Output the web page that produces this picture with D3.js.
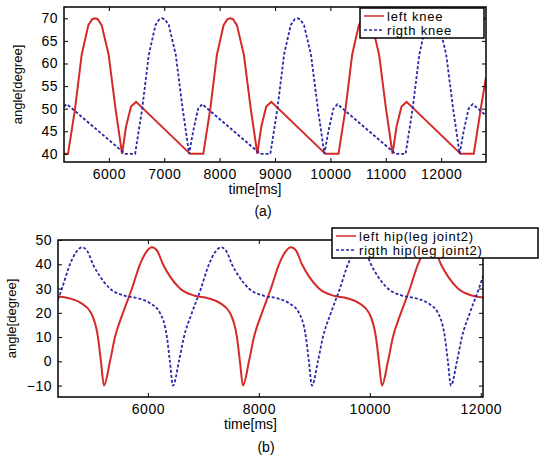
<!DOCTYPE html>
<html>
<head>
<meta charset="utf-8">
<script src="https://cdn.jsdelivr.net/npm/d3@7"></script>
<style>
  body { margin: 0; background: #fff; }
  text { font-family: "Liberation Sans", Arial, sans-serif; fill: #000; }
</style>
</head>
<body>
<svg id="chart" width="539" height="458"></svg>
<script>
// (a) knee angles [time ms, degree]
var leftKnee = [
  [5190, 40], [5263, 40], [5390, 50], [5510, 62], [5630, 68.5], [5700, 69.8], [5750, 70], [5800, 69.8], [5870, 68.5], [5995, 62], [6120, 50], [6239, 40],
  [6310, 46], [6400, 50.5], [6492, 51.5], [7468, 40], [7705, 40], [7832, 50], [7952, 62], [8072, 68.5], [8142, 69.8], [8192, 70], [8242, 69.8], [8312, 68.5],
  [8437, 62], [8562, 50], [8681, 40], [8752, 46], [8842, 50.5], [8934, 51.5], [9910, 40], [10147, 40], [10274, 50], [10394, 62],
  [10514, 68.5], [10584, 69.8], [10634, 70], [10684, 69.8], [10754, 68.5], [10879, 62], [11004, 50], [11123, 40], [11194, 46], [11284, 50.5], [11376, 51.5],
  [12352, 40], [12589, 40], [12716, 50], [12810, 57]
];
var rightKnee = [
  [5190, 50.5], [5243, 51], [6293, 40], [6474, 40], [6602, 50], [6722, 62], [6842, 68.5], [6912, 69.8], [6962, 70], [7012, 69.8], [7082, 68.5], [7207, 62],
  [7332, 50], [7450, 40], [7522, 45], [7612, 50], [7685, 51], [8735, 40], [8916, 40], [9044, 50], [9164, 62], [9284, 68.5],
  [9354, 69.8], [9404, 70], [9454, 69.8], [9524, 68.5], [9649, 62], [9774, 50], [9892, 40], [9964, 45], [10054, 50], [10127, 51], [11177, 40], [11358, 40],
  [11486, 50], [11606, 62], [11726, 68.5], [11796, 69.8], [11846, 70], [11896, 69.8], [11966, 68.5], [12091, 62], [12216, 50], [12334, 40], [12406, 45],
  [12496, 50], [12569, 51], [12810, 48.5]
];
// (b) hip angles [time ms, degree]
var leftHip = [
  [4380, 26.8], [4578, 26], [4794, 24], [4974, 20], [5100, 10], [5154, 0], [5209, -10], [5317, 0], [5407, 10], [5551, 20],
  [5713, 30], [5858, 40], [5969, 45], [6074, 47], [6169, 45.5], [6272, 40], [6398, 35], [6578, 30], [6849, 27], [7083, 26],
  [7299, 24], [7479, 20], [7605, 10], [7659, 0], [7714, -10], [7822, 0], [7912, 10], [8056, 20], [8218, 30], [8363, 40],
  [8474, 45], [8579, 47], [8674, 45.5], [8777, 40], [8903, 35], [9083, 30], [9354, 27], [9588, 26], [9804, 24], [9984, 20],
  [10110, 10], [10164, 0], [10219, -10], [10327, 0], [10417, 10], [10561, 20], [10723, 30], [10868, 40], [10979, 45],
  [11084, 47], [11179, 45.5], [11282, 40], [11408, 35], [11588, 30], [11859, 27], [12040, 26.3]
];
var rightHip = [
  [4380, 25.5], [4451, 30], [4596, 40], [4707, 45], [4812, 47], [4907, 45.5], [5010, 40], [5136, 35], [5316, 30], [5587, 27],
  [5821, 26], [6037, 24], [6217, 20], [6343, 10], [6397, 0], [6452, -10], [6560, 0], [6650, 10], [6794, 20], [6956, 30],
  [7101, 40], [7212, 45], [7317, 47], [7412, 45.5], [7515, 40], [7641, 35], [7821, 30], [8092, 27], [8326, 26], [8542, 24],
  [8722, 20], [8848, 10], [8902, 0], [8957, -10], [9065, 0], [9155, 10], [9299, 20], [9461, 30], [9606, 40], [9717, 45],
  [9822, 47], [9917, 45.5], [10020, 40], [10146, 35], [10326, 30], [10597, 27], [10831, 26], [11047, 24], [11227, 20],
  [11353, 10], [11407, 0], [11462, -10], [11570, 0], [11660, 10], [11804, 20], [11966, 30], [12040, 35]
];
var kneeXTicks = [6000, 7000, 8000, 9000, 10000, 11000, 12000];
var kneeYTicks = [40, 45, 50, 55, 60, 65, 70];
var hipXTicks = [6000, 8000, 10000, 12000];
var hipYTicks = [-10, 0, 10, 20, 30, 40, 50];

var svg = d3.select('#chart');
var red = '#d42a2a';
var blue = '#2a2aa8';

function panel(opt) {
  var x = d3.scaleLinear().domain(opt.xDomain).range([opt.left, opt.right]);
  var y = d3.scaleLinear().domain(opt.yDomain).range([opt.bottom, opt.top]);
  var g = svg.append('g');

  var clipId = 'clip' + opt.name;
  g.append('clipPath').attr('id', clipId).append('rect')
    .attr('x', opt.left).attr('y', opt.top)
    .attr('width', opt.right - opt.left).attr('height', opt.bottom - opt.top);

  var line = d3.line()
    .x(function (d) { return x(d[0]); })
    .y(function (d) { return y(d[1]); })
    .curve(opt.curve);

  g.append('path').datum(opt.series[0]).attr('clip-path', 'url(#' + clipId + ')')
    .attr('d', line).attr('fill', 'none').attr('stroke', red).attr('stroke-width', 2);
  g.append('path').datum(opt.series[1]).attr('clip-path', 'url(#' + clipId + ')')
    .attr('d', line).attr('fill', 'none').attr('stroke', blue).attr('stroke-width', 1.8)
    .attr('stroke-dasharray', '3,2');

  var xb = g.append('g').attr('transform', 'translate(0,' + opt.bottom + ')')
    .call(d3.axisBottom(x).tickValues(opt.xTicks).tickSize(-4).tickPadding(7).tickFormat(d3.format('d')));
  var xt = g.append('g').attr('transform', 'translate(0,' + opt.top + ')')
    .call(d3.axisTop(x).tickValues(opt.xTicks).tickSize(-4).tickFormat(''));
  var yl = g.append('g').attr('transform', 'translate(' + opt.left + ',0)')
    .call(d3.axisLeft(y).tickValues(opt.yTicks).tickSize(-4).tickPadding(6));
  var yr = g.append('g').attr('transform', 'translate(' + opt.right + ',0)')
    .call(d3.axisRight(y).tickValues(opt.yTicks).tickSize(-4).tickFormat(''));
  [xb, xt, yl, yr].forEach(function (a) {
    a.select('.domain').remove();
    a.selectAll('line').attr('stroke', '#000');
    a.selectAll('text').style('font-size', '14px').style('letter-spacing', '0.5px');
  });

  g.append('rect').attr('x', opt.left).attr('y', opt.top)
    .attr('width', opt.right - opt.left).attr('height', opt.bottom - opt.top)
    .attr('fill', 'none').attr('stroke', '#000').attr('stroke-width', 1.5);

  g.append('text').attr('x', (opt.left + opt.right) / 2 - 20).attr('y', opt.bottom + 32)
    .attr('text-anchor', 'middle').style('font-size', '14px').text('time[ms]');
  g.append('text')
    .attr('transform', 'translate(' + opt.yLabelX + ',' + (opt.top + opt.bottom) / 2 + ') rotate(-90)')
    .attr('text-anchor', 'middle').style('font-size', '13px').text('angle[degree]');
  g.append('text').attr('x', opt.captionX).attr('y', opt.captionY)
    .attr('text-anchor', 'middle').style('font-size', '14px').text(opt.caption);

  // legend
  var lg = opt.legend;
  g.append('rect').attr('x', lg.x).attr('y', lg.y).attr('width', lg.w).attr('height', lg.h)
    .attr('fill', '#fff').attr('stroke', '#000').attr('stroke-width', 1.5);
  opt.labels.forEach(function (label, i) {
    var ry = lg.y + 8 + i * 14;
    g.append('line').attr('x1', lg.x + 4).attr('x2', lg.x + 24).attr('y1', ry).attr('y2', ry)
      .attr('stroke', i ? blue : red).attr('stroke-width', 1.5)
      .attr('stroke-dasharray', i ? '3,2' : null);
    g.append('text').attr('x', lg.x + 27).attr('y', ry + 4.5)
      .style('font-size', '13px').style('letter-spacing', '0.8px').text(label);
  });
}

panel({
  name: 'a', left: 64, right: 486, top: 7, bottom: 162,
  xDomain: [5190, 12810], yDomain: [38.2, 72.5],
  xTicks: kneeXTicks, yTicks: kneeYTicks,
  series: [leftKnee, rightKnee], curve: d3.curveLinear,
  yLabelX: 22, caption: '(a)', captionX: 263, captionY: 216,
  legend: { x: 360, y: 8, w: 124, h: 30 },
  labels: ['left knee', 'rigth knee']
});

panel({
  name: 'b', left: 58, right: 483, top: 240, bottom: 397,
  xDomain: [4380, 12040], yDomain: [-14.7, 50],
  xTicks: hipXTicks, yTicks: hipYTicks,
  series: [leftHip, rightHip], curve: d3.curveMonotoneX,
  yLabelX: 16, caption: '(b)', captionX: 266, captionY: 452,
  legend: { x: 332, y: 228, w: 206, h: 30 },
  labels: ['left hip(leg joint2)', 'rigth hip(leg joint2)']
});
</script>
</body>
</html>
